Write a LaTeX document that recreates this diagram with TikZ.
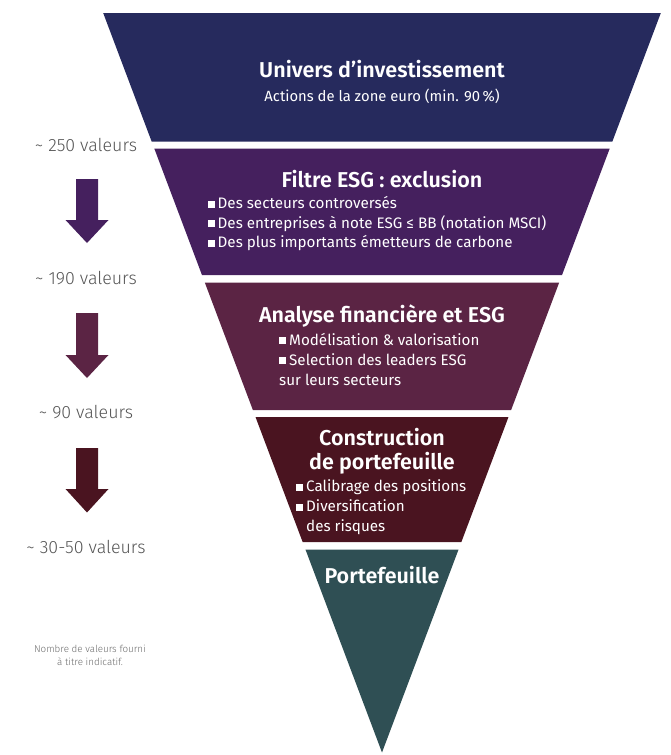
\documentclass[tikz,border=0pt]{standalone}
\usepackage{fontspec}
\setmainfont{Fira Sans}
\newfontfamily\semib{Fira Sans SemiBold}
\newfontfamily\lightf{Fira Sans Light}
\definecolor{cnavy}{HTML}{262A5D}
\definecolor{cpurple}{HTML}{45205E}
\definecolor{cplum}{HTML}{5B2444}
\definecolor{cmaroon}{HTML}{4A1420}
\definecolor{cteal}{HTML}{2F4F54}
\definecolor{cgrey}{HTML}{555555}
\definecolor{cgrey2}{HTML}{6A6A6A}
\newcommand\bsq{\rule[0.8pt]{6.8pt}{6.8pt}\hspace{3.2pt}}
\begin{document}
\begin{tikzpicture}[x=1pt,y=-1pt,
  declare function={hw(\y)=0.37703*(752.5-\y);},
  title/.style={text=white,inner sep=0pt,anchor=base,font=\semib\fontsize{21.5}{26}\selectfont},
  sub/.style={text=white,inner sep=0pt,anchor=base,font=\fontsize{14.8}{18}\selectfont},
  bline/.style={text=white,inner sep=0pt,anchor=base west,font=\fontsize{15.2}{18}\selectfont},
  count/.style={text=cgrey,inner sep=0pt,anchor=base,font=\lightf\fontsize{17.8}{21}\selectfont},
  note/.style={text=cgrey2,inner sep=0pt,anchor=base,font=\lightf\fontsize{9.8}{12}\selectfont},
]
\useasboundingbox (0,0) rectangle (671,755);
% funnel bands
\fill[cnavy] ({382-hw(13)},13) -- ({382+hw(13)},13) -- ({382+hw(141.5)},141.5) -- ({382-hw(141.5)},141.5) -- cycle;
\fill[cpurple] ({382-hw(148.5)},148.5) -- ({382+hw(148.5)},148.5) -- ({382+hw(275)},275) -- ({382-hw(275)},275) -- cycle;
\fill[cplum] ({382-hw(282.5)},282.5) -- ({382+hw(282.5)},282.5) -- ({382+hw(410)},410) -- ({382-hw(410)},410) -- cycle;
\fill[cmaroon] ({382-hw(417)},417) -- ({382+hw(417)},417) -- ({382+hw(542)},542) -- ({382-hw(542)},542) -- cycle;
\fill[cteal] ({382-hw(549.5)},549.5) -- ({382+hw(549.5)},549.5) -- (382,752.5) -- cycle;
% band 1
\node[title] (t1) at (382,77.5) {Univers d’investissement};
\node[sub] (s1) at (382,101) {Actions de la zone euro (min. 90\,\%)};
% band 2
\node[title] (t2) at (382,187) {Filtre ESG : exclusion};
\node[bline] (b21) at (207.5,208.5) {\bsq Des secteurs controversés};
\node[bline] (b22) at (207.5,228) {\bsq Des entreprises à note ESG ≤ BB (notation MSCI)};
\node[bline] (b23) at (207.5,247.5) {\bsq Des plus importants émetteurs de carbone};
% band 3
\node[title] (t3) at (382,322) {Analyse financière et ESG};
\node[bline] (b31) at (279,345) {\bsq Modélisation \& valorisation};
\node[bline] (b32) at (279,365) {\bsq Selection des leaders ESG};
\node[bline] (b33) at (279,385) {sur leurs secteurs};
% band 4
\node[title] (t4a) at (382,445) {Construction};
\node[title] (t4b) at (382,469) {de portefeuille};
\node[bline] (b41) at (296,491.5) {\bsq Calibrage des positions};
\node[bline] (b42) at (296,511.5) {\bsq Diversification};
\node[bline] (b43) at (306,531.5) {des risques};
% band 5
\node[title] (t5) at (382,583) {Portefeuille};
% left counts
\node[count] (c1) at (86,151) {\textasciitilde{} 250 valeurs};
\node[count] (c2) at (86,284) {\textasciitilde{} 190 valeurs};
\node[count] (c3) at (86,418) {\textasciitilde{} 90 valeurs};
\node[count] (c4) at (86,553) {\textasciitilde{} 30-50 valeurs};
% arrows
\fill[cpurple] (76,179) -- (98,179) -- (98,220) -- (108.5,220) -- (87,243) -- (65.5,220) -- (76,220) -- cycle;
\fill[cplum] (76,313) -- (98,313) -- (98,355) -- (108.5,355) -- (87,378) -- (65.5,355) -- (76,355) -- cycle;
\fill[cmaroon] (76,448) -- (98,448) -- (98,489) -- (108.5,489) -- (87,512.5) -- (65.5,489) -- (76,489) -- cycle;
% note
\node[note] (n1) at (90,652) {Nombre de valeurs fourni};
\node[note] (n2) at (90,665.5) {à titre indicatif.};
\end{tikzpicture}
\end{document}
